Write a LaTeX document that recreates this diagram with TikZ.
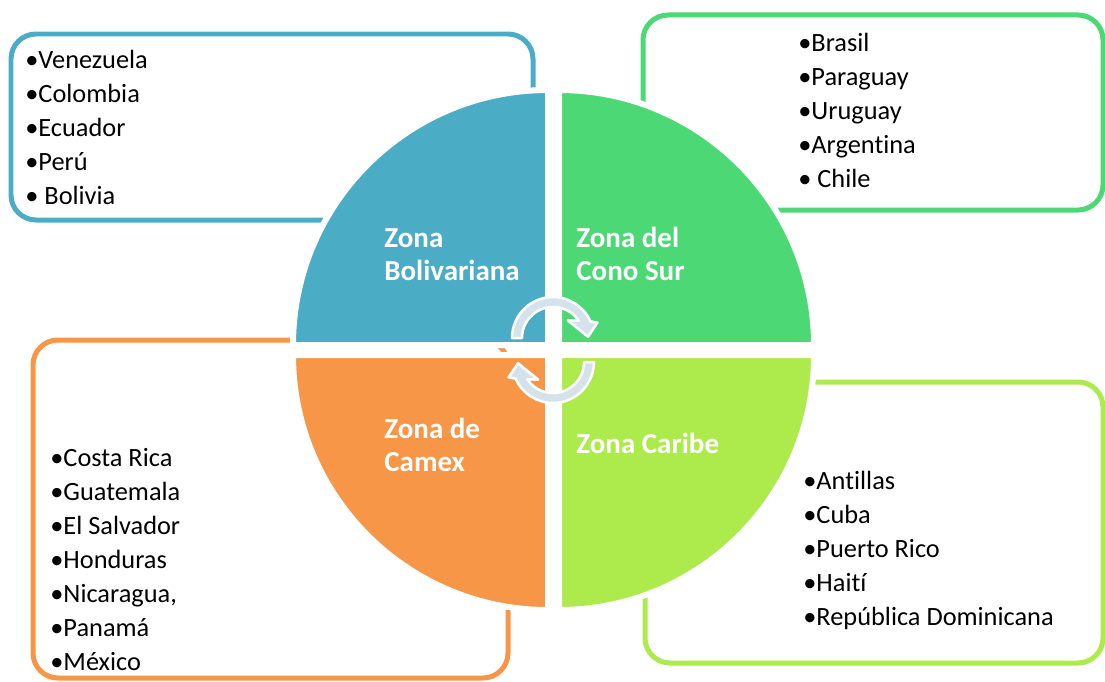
\documentclass[tikz,border=0pt]{standalone}
\usepackage{fontspec}
\setmainfont{Carlito}[Ligatures=NoCommon]
\usetikzlibrary{positioning}
\definecolor{bolivar}{HTML}{4BACC6}
\definecolor{conosur}{HTML}{4CD975}
\definecolor{caribe}{HTML}{ADEA4B}
\definecolor{camex}{HTML}{F79646}
\definecolor{turncol}{RGB}{212,227,235}
\tikzstyle{zonebox} = [line width=0.1cm, rounded corners=0.5cm]
\tikzstyle{countries} = [anchor=north west, inner sep=0pt, align=left, font=\fontsize{15pt}{0.68cm}\selectfont]
\tikzstyle{zonelabel} = [anchor=north west, inner sep=0pt, align=left, text=white, font=\bfseries\fontsize{16.5pt}{0.66cm}\selectfont]
\tikzstyle{quadrant} = [draw=white, line width=0.12cm]
\tikzstyle{turn} = [fill=turncol, draw=white, line width=0.05cm, line join=round]
\newcommand{\turnpath}{(180:41) arc[start angle=180, end angle=24, radius=41] -- (19:47) -- (2:35) -- (50:23) -- (34:31) arc[start angle=34, end angle=180, radius=31] -- cycle}

\begin{document}
\begin{tikzpicture}[x=0.02cm, y=0.02cm]
  \useasboundingbox (0,0) rectangle (1105,681);
  % list boxes
  \draw [zonebox, bolivar] (11,647) rectangle (533,461);
  \draw [zonebox, conosur] (643,666) rectangle (1103,471);
  \draw [zonebox, camex] (33,341) rectangle (508,3);
  \draw [zonebox, caribe] (645,299) rectangle (1103,18);
  % quarters of the circle
  \path [quadrant, fill=bolivar] (548,336) -- ++(180:255) arc[start angle=180, end angle=90, radius=255] -- cycle;
  \path [quadrant, fill=conosur] (559,336) -- ++(90:255) arc[start angle=90, end angle=0, radius=255] -- cycle;
  \path [quadrant, fill=camex] (548,326) -- ++(270:255) arc[start angle=270, end angle=180, radius=255] -- cycle;
  \path [quadrant, fill=caribe] (559,326) -- ++(0:255) arc[start angle=0, end angle=-90, radius=255] -- cycle;
  % turning arrows
  \begin{scope}[shift={(553,343)}]
    \path [turn] \turnpath;
  \end{scope}
  \begin{scope}[shift={(553,319)}, rotate=180]
    \path [turn] \turnpath;
  \end{scope}
  % zone names
  \node (bol) [zonelabel] at (384,453) {Zona\\Bolivariana};
  \node (sur) [zonelabel] at (576,454) {Zona del\\Cono Sur};
  \node (cam) [zonelabel] at (384,263) {Zona de\\Camex};
  \node (car) [zonelabel] at (576,248) {Zona Caribe};
  % countries
  \node (bollist) [countries] at (25,631) {•Venezuela\\•Colombia\\•Ecuador\\•Perú\\• Bolivia};
  \node (surlist) [countries] at (798,648) {•Brasil\\•Paraguay\\•Uruguay\\•Argentina\\• Chile};
  \node (camlist) [countries] at (50,233) {•Costa Rica\\•Guatemala\\•El Salvador\\•Honduras\\•Nicaragua,\\•Panamá\\•México};
  \node (carlist) [countries] at (803,210) {•Antillas\\•Cuba\\•Puerto Rico\\•Haití\\•República Dominicana};
\end{tikzpicture}
\end{document}
